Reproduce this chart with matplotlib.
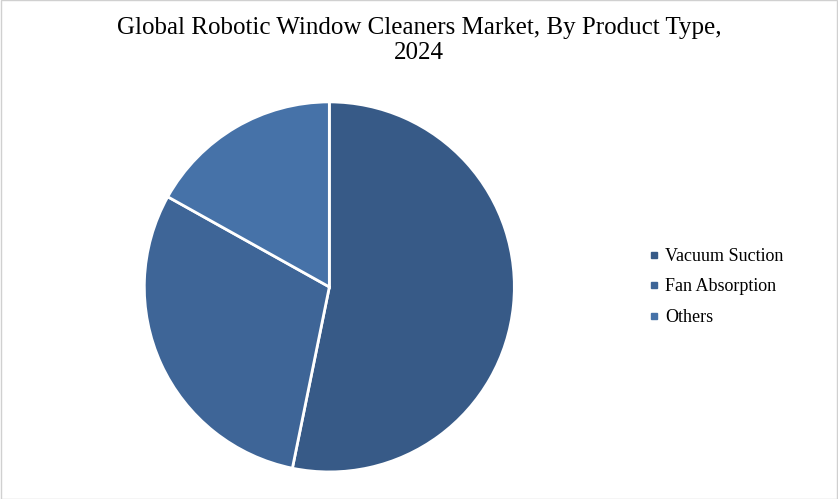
import matplotlib
matplotlib.use("Agg")
import matplotlib.pyplot as plt
from matplotlib.patches import Rectangle
from matplotlib.lines import Line2D

categories = ["Vacuum Suction", "Fan Absorption", "Others"]
values = [53.2, 29.9, 16.9]
colors = ["#375a87", "#3e6597", "#4672a8"]

plt.rcParams['font.family'] = ['Liberation Serif', 'DejaVu Serif']
fig = plt.figure(figsize=(8.38, 4.99), dpi=100)
ax = fig.add_axes([0.17, 0.05, 0.446, 0.75])
wedges, _ = ax.pie(values, colors=colors, startangle=90, counterclock=False,
                   wedgeprops=dict(edgecolor="white", linewidth=2))
ax.set_xlim(-1.01, 1.01)
ax.set_ylim(-1.01, 1.01)
ax.set_aspect("equal")
fig.text(0.5, 0.965, "Global Robotic Window Cleaners Market, By Product Type,\n2024",
         ha="center", va="top", fontsize=18, linespacing=1.15)
handles = [Line2D([], [], marker="s", linestyle="none", color=c, markersize=5) for c in colors]
fig.legend(handles, categories, loc="center left", bbox_to_anchor=(0.755, 0.425),
           frameon=False, fontsize=13, handlelength=0.6,
           handletextpad=0.3, labelspacing=0.75)
fig.patches.append(Rectangle((0.001, 0.001), 0.998, 0.998, transform=fig.transFigure,
                             fill=False, edgecolor="#d0d0d0", linewidth=1))
fig.savefig("out.png", dpi=100)
